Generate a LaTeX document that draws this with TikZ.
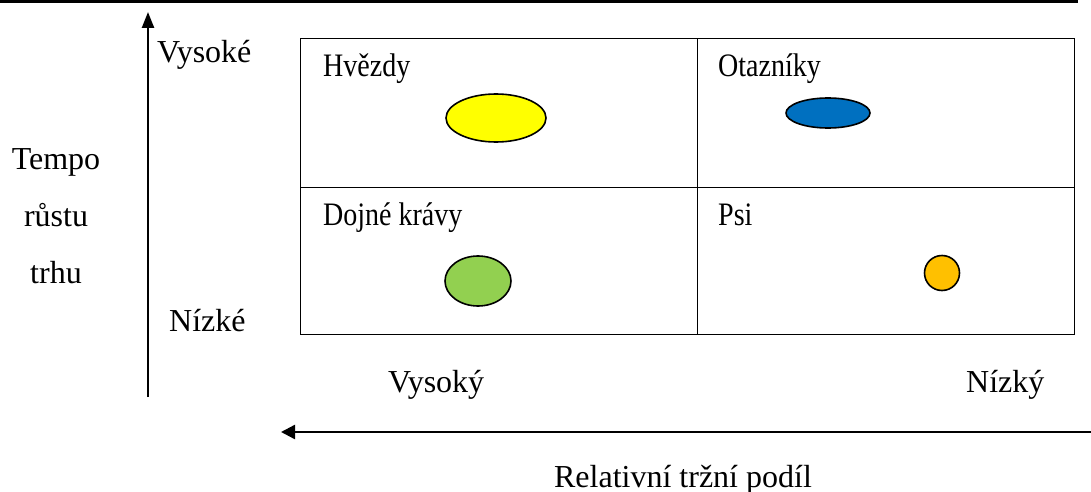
\documentclass[tikz,border=0pt]{standalone}
\usepackage{fontspec}
\setmainfont{Liberation Serif}
\usetikzlibrary{shapes.geometric,arrows.meta}
\definecolor{starYellow}{HTML}{FFFF00}
\definecolor{qBlue}{HTML}{0070C0}
\definecolor{cowGreen}{HTML}{92D050}
\definecolor{dogOrange}{HTML}{FFC000}
\begin{document}
\begin{tikzpicture}[x=1pt,y=-1pt,
  lbl/.style={inner sep=0pt,anchor=base west,font=\fontsize{28}{32}\selectfont,yscale=1.17},
  albl/.style={inner sep=0pt,anchor=base west,font=\fontsize{32}{36}\selectfont},
  clbl/.style={albl,anchor=base},
  quad/.style={draw,line width=1.4pt,inner sep=0pt,anchor=north west},
  blob/.style={ellipse,draw,line width=1.6pt,inner sep=0pt},
  axis/.style={line width=2.4pt}]
\useasboundingbox (0,0) rectangle (1091,492);
% top rule
\draw[line width=3pt] (0,1.5) -- (1078,1.5);
% quadrants
\node[quad,minimum width=397pt,minimum height=149pt] (q1) at (300,38) {};
\node[quad,minimum width=377pt,minimum height=149pt] (q2) at (697,38) {};
\node[quad,minimum width=397pt,minimum height=147pt] (q3) at (300,187) {};
\node[quad,minimum width=377pt,minimum height=147pt] (q4) at (697,187) {};
% quadrant labels
\node[lbl] (t1) at (323,77) {Hvězdy};
\node[lbl] (t2) at (718,77) {Otazníky};
\node[lbl] (t3) at (323,225) {Dojné krávy};
\node[lbl] (t4) at (718,225) {Psi};
% bubbles
\node[blob,fill=starYellow,minimum width=100pt,minimum height=48pt] (b1) at (496,118) {};
\node[blob,fill=qBlue,minimum width=84pt,minimum height=30pt] (b2) at (828,113) {};
\node[blob,fill=cowGreen,minimum width=66pt,minimum height=50pt] (b3) at (478,281) {};
\node[blob,fill=dogOrange,minimum width=35pt,minimum height=35pt] (b4) at (942,273) {};
% vertical axis
\coordinate (vs) at (148,397);
\coordinate (ve) at (148,12);
\draw[axis,-{Triangle[length=16pt,width=12pt]}] (vs) -- (ve);
\node[albl] (vh) at (157,63) {Vysoké};
\node[albl] (vl) at (169,331) {Nízké};
\node[clbl] (y1) at (56,169) {Tempo};
\node[clbl] (y2) at (56,226) {růstu};
\node[clbl] (y3) at (56,283) {trhu};
% horizontal axis
\coordinate (hs) at (1091,432);
\coordinate (he) at (281,432);
\draw[axis,-{Triangle[length=14pt,width=14pt]}] (hs) -- (he);
\node[albl] (xh) at (388,392) {Vysoký};
\node[albl] (xl) at (966,392) {Nízký};
\node[clbl] (xt) at (683,487) {Relativní tržní podíl};
\end{tikzpicture}
\end{document}
